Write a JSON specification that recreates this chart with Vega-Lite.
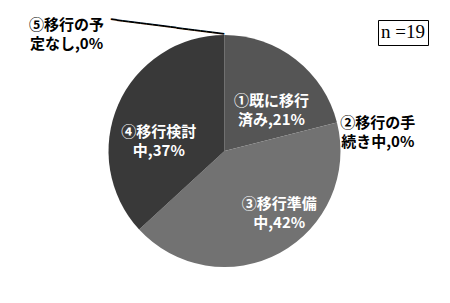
{
  "$schema": "https://vega.github.io/schema/vega-lite/v6.json",
  "width": 447,
  "height": 300,
  "autosize": "none",
  "padding": {"left": 1, "top": 1, "right": 2, "bottom": 2},
  "background": "#ffffff",
  "config": {"view": {"stroke": "#8c8c8c", "strokeWidth": 1.6}},
  "data": {
    "values": [
      {"cat": "①既に移行済み", "n": 4, "o": 1, "label": "①既に移行\n済み,21%"},
      {"cat": "②移行の手続き中", "n": 0, "o": 2, "label": "②移行の手\n続き中,0%"},
      {"cat": "③移行準備中", "n": 8, "o": 3, "label": "③移行準備\n中,42%"},
      {"cat": "④移行検討中", "n": 7, "o": 4, "label": "④移行検討\n中,37%"},
      {"cat": "⑤移行の予定なし", "n": 0, "o": 5, "label": "⑤移行の予\n定なし,0%"}
    ]
  },
  "encoding": {
    "theta": {"field": "n", "type": "quantitative", "stack": true},
    "order": {"field": "o", "type": "quantitative"}
  },
  "layer": [
    {
      "mark": {"type": "arc", "outerRadius": 116},
      "encoding": {
        "color": {
          "field": "cat",
          "type": "nominal",
          "scale": {
            "domain": ["①既に移行済み", "②移行の手続き中", "③移行準備中", "④移行検討中", "⑤移行の予定なし"],
            "range": ["#555555", "#555555", "#727272", "#393939", "#393939"]
          },
          "legend": {
            "title": "\u2002n =19\u2005",
            "values": [],
            "orient": "none",
            "legendX": 377,
            "legendY": 19,
            "titleFont": "Liberation Serif",
            "titleFontSize": 19,
            "titleFontWeight": "normal",
            "titleColor": "#000000",
            "titlePadding": 0,
            "padding": 3,
            "strokeColor": "#000000",
            "fillColor": "#ffffff"
          }
        }
      }
    },
    {
      "mark": {"type": "text", "radius": 70, "dx": 4, "dy": 5, "lineBreak": "\n", "lineHeight": 19, "font": "Noto Sans CJK JP", "fontSize": 15, "fontWeight": "bold", "color": "#ffffff", "align": "center", "baseline": "middle"},
      "encoding": {"text": {"condition": {"test": "datum.o == 1", "field": "label"}, "value": ""}}
    },
    {
      "mark": {"type": "text", "radius": 75, "dx": 19, "dy": -13, "lineBreak": "\n", "lineHeight": 19, "font": "Noto Sans CJK JP", "fontSize": 15, "fontWeight": "bold", "color": "#ffffff", "align": "center", "baseline": "middle"},
      "encoding": {"text": {"condition": {"test": "datum.o == 3", "field": "label"}, "value": ""}}
    },
    {
      "mark": {"type": "text", "radius": 75, "dx": 3, "dy": 11, "lineBreak": "\n", "lineHeight": 19, "font": "Noto Sans CJK JP", "fontSize": 15, "fontWeight": "bold", "color": "#ffffff", "align": "center", "baseline": "middle"},
      "encoding": {"text": {"condition": {"test": "datum.o == 4", "field": "label"}, "value": ""}}
    },
    {
      "mark": {"type": "text", "radius": 155, "dx": 3, "dy": 10, "lineBreak": "\n", "lineHeight": 19, "font": "Noto Sans CJK JP", "fontSize": 15, "fontWeight": "bold", "color": "#000000", "align": "center", "baseline": "middle"},
      "encoding": {"text": {"condition": {"test": "datum.o == 2", "field": "label"}, "value": ""}}
    },
    {
      "mark": {"type": "text", "radius": 126, "dx": -158, "dy": 0, "lineBreak": "\n", "lineHeight": 19, "font": "Noto Sans CJK JP", "fontSize": 15, "fontWeight": "bold", "color": "#000000", "align": "center", "baseline": "middle"},
      "encoding": {"text": {"condition": {"test": "datum.o == 5", "field": "label"}, "value": ""}}
    },
    {
      "mark": {"type": "text", "radius": 116.6, "dx": -57.5, "dy": 0, "angle": 7.4, "font": "DejaVu Sans Mono", "fontSize": 10, "color": "#000000", "align": "center", "baseline": "middle"},
      "encoding": {"text": {"condition": {"test": "datum.o == 5", "value": "━━━━━━━━━━━━━━━━━━━"}, "value": ""}}
    }
  ]
}
